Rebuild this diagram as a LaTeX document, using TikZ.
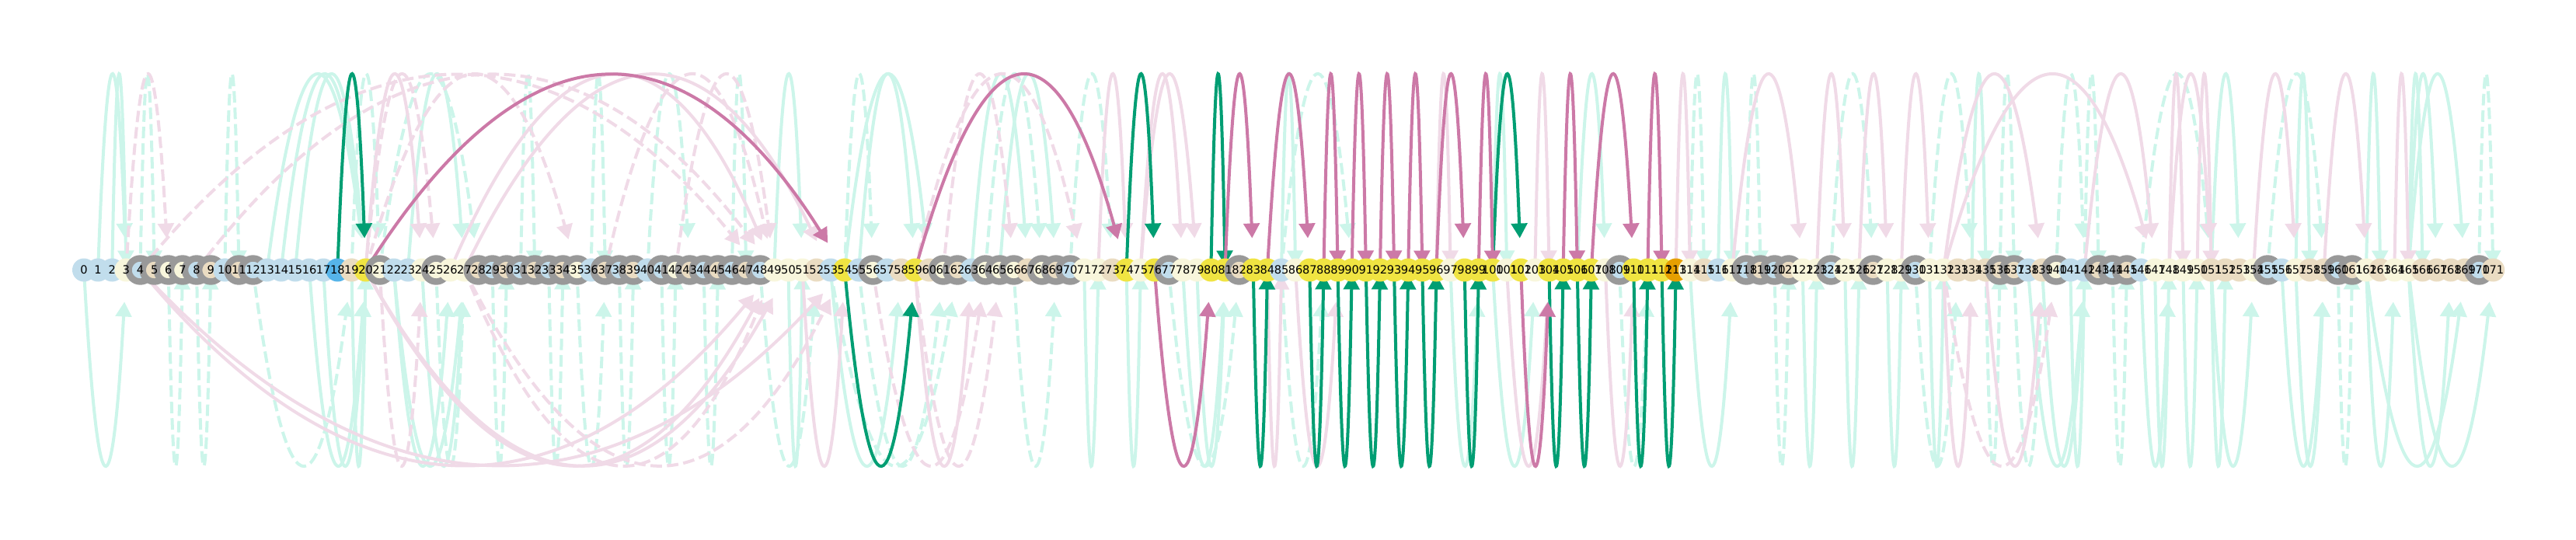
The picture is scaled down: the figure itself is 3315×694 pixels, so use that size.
\documentclass[tikz,border=0pt]{standalone}
\usepackage{fontspec}
\setmainfont{DejaVu Sans}
\usetikzlibrary{arrows.meta,backgrounds}
\definecolor{mintf}{HTML}{CCF5EA}
\definecolor{pinkf}{HTML}{F0DAE7}
\definecolor{greenf}{HTML}{009E73}
\definecolor{purplef}{HTML}{CC79A7}
\definecolor{cbl}{HTML}{C1DDEC}
\definecolor{ccr}{HTML}{F8F6DC}
\definecolor{cbg}{HTML}{EADCC2}
\definecolor{cyl}{HTML}{F0E442}
\definecolor{csb}{HTML}{56B4E9}
\definecolor{cor}{HTML}{E69F00}
\definecolor{cring}{HTML}{999999}
\tikzset{
  arcline/.style={line width=4pt,-{Triangle[length=19pt,width=20.5pt]}},
  mints/.style={arcline,draw=mintf},
  mintd/.style={mints,dash pattern=on 14.8pt off 6.4pt},
  pinks/.style={arcline,draw=pinkf},
  pinkd/.style={pinks,dash pattern=on 14.8pt off 6.4pt},
  greens/.style={arcline,draw=greenf},
  purples/.style={arcline,draw=purplef},
  dot/.style={circle,inner sep=0pt,minimum size=30pt,draw=none,line width=0pt},
  bl/.style={dot,fill=cbl}, cr/.style={dot,fill=ccr}, bg/.style={dot,fill=cbg},
  yl/.style={dot,fill=cyl}, sb/.style={dot,fill=csb}, orr/.style={dot,fill=cor},
  rbl/.style={bl,draw=cring,line width=8.4pt},
  rcr/.style={cr,draw=cring,line width=8.4pt},
  rbg/.style={bg,draw=cring,line width=8.4pt},
  lab/.style={inner sep=0pt,font=\fontsize{14.6}{15}\selectfont,text=black}
}
\newcommand{\arcedge}[4]{%
  \pgfmathsetmacro{\xaa}{108+18.13*#2}%
  \pgfmathsetmacro{\xbb}{108+18.13*#3}%
  \pgfmathsetmacro{\cax}{\xaa+(\xbb-\xaa)/3}%
  \pgfmathsetmacro{\cbx}{\xbb-(\xbb-\xaa)/3}%
  \pgfmathsetmacro{\shr}{(#3-#2==1)?6:41}%
  \pgfmathsetmacro{\hs}{(\xbb-\xaa)/1000}%
  \pgfmathsetmacro{\hthree}{\shr/sqrt(1+\hs*\hs)}%
  \pgfmathsetmacro{\cyy}{347.5+(#1)*(250-0.137*\hthree)/0.749}%
  \draw[#4,shorten >=\shr pt] (n#2.center) .. controls (\cax,\cyy) and (\cbx,\cyy) .. (n#3.center);%
}
\begin{document}
\begin{tikzpicture}[x=1pt,y=-1pt]
\useasboundingbox (0,0) rectangle (3315,694);
% nodes
\foreach \i/\st in {0/bl,1/bl,2/bl,3/cr,4/rbl,5/rbg,6/rcr,7/rcr,8/rbl,9/rbg,10/bl,11/rbg,12/rbl,13/bl,14/bl,15/bl,16/bl,17/bl,18/sb,19/bg,20/yl,21/rcr,22/bl,23/bl,24/cr,25/rcr,26/cr,27/cr,28/rbg,29/rbl,30/rbg,31/rbl,32/rbg,33/rbl,34/rbg,35/rcr,36/bl,37/rbg,38/rbl,39/rbg,40/bl,41/rbl,42/rcr,43/rbg,44/rbl,45/rbg,46/rbl,47/rbg,48/rbl,49/cr,50/cr,51/cr,52/bg,53/bl,54/yl,55/bl,56/rcr,57/bl,58/bg,59/yl,60/bg,61/rcr,62/rbg,63/bl,64/rcr,65/rcr,66/rcr,67/bg,68/rcr,69/rbg,70/rbl,71/cr,72/cr,73/bg,74/yl,75/cr,76/yl,77/rbl,78/cr,79/cr,80/yl,81/yl,82/rbg,83/yl,84/yl,85/bl,86/cr,87/yl,88/yl,89/yl,90/yl,91/yl,92/yl,93/yl,94/yl,95/yl,96/yl,97/cr,98/yl,99/yl,100/yl,101/cr,102/yl,103/cr,104/yl,105/yl,106/yl,107/yl,108/cr,109/rbl,110/yl,111/yl,112/yl,113/orr,114/cr,115/bg,116/bl,117/cr,118/rbl,119/rbg,120/rbl,121/rbg,122/cr,123/cr,124/rbl,125/cr,126/cr,127/rbg,128/cr,129/cr,130/rbl,131/cr,132/cr,133/bg,134/bg,135/bg,136/rbg,137/rbg,138/bl,139/bg,140/rcr,141/bl,142/bl,143/rbg,144/rbl,145/rbg,146/bl,147/cr,148/cr,149/cr,150/cr,151/bg,152/bg,153/bg,154/cr,155/rbl,156/bl,157/cr,158/bg,159/bg,160/rbl,161/rbg,162/cr,163/bg,164/cr,165/cr,166/bg,167/bg,168/bg,169/bg,170/rbl,171/bg}
  {\node[\st] (n\i) at ({108+18.13*\i},347.5) {};}
% labels
\foreach \i in {0,...,171} {\node[lab] (l\i) at (n\i.center) {\i};}
\begin{pgfonlayer}{background}
% faded arcs above
\foreach \a/\b in {1/3,2/3,13/20,14/20,15/20,23/27,49/51,55/59,54/60,63/67,65/69,85/86,100/101,106/108,116/117,134/135,151/153,157/158,162/163,165/166,165/167,165/169} {\arcedge{-1}{\a}{\b}{mints}}
\foreach \a/\b in {4/5,10/11,19/21,21/28,31/32,36/37,40/43,46/47,54/56,64/68,70/73,85/90,114/115,118/119,124/127,131/134,136/137,140/142,142/143,146/151,155/159,170/171} {\arcedge{-1}{\a}{\b}{mintd}}
\foreach \a/\b in {20/24,27/53,26/49,72/74,75/78,75/79,96/97,103/104,113/114,117/122,123/125,126/128,129/131,132/139,132/147,142/147,148/149,148/151,150/151,154/157,159/162,164/165} {\arcedge{-1}{\a}{\b}{pinks}}
\foreach \a/\b in {3/6,20/25,20/35,4/48,8/49,37/49,42/49,61/66,59/71} {\arcedge{-1}{\a}{\b}{pinkd}}
% faded arcs below
\foreach \a/\b in {0/3,16/20,17/20,19/20,22/26,22/27,24/27,50/51,53/58,71/72,74/75,78/81,79/81,97/99,100/103,114/117,122/123,125/126,128/129,131/132,138/142,139/142,141/142,146/148,147/148,149/150,151/152,151/154,156/159,157/159,162/164,162/169,165/168,165/171} {\arcedge{1}{\a}{\b}{mints}}
\foreach \a/\b in {6/7,8/9,12/19,25/27,29/30,33/34,35/37,38/39,41/42,44/45,48/52,55/61,53/62,66/69,77/82,85/88,109/111,120/121,130/133,135/136,137/139,144/145,160/161} {\arcedge{1}{\a}{\b}{mintd}}
\foreach \a/\b in {4/49,4/54,20/49,20/50,51/54,59/63,84/85,86/89,101/104,108/110,132/134,135/139} {\arcedge{1}{\a}{\b}{pinks}}
\foreach \a/\b in {21/24,27/49,27/54,56/64,59/65,132/140} {\arcedge{1}{\a}{\b}{pinkd}}
% strong arcs
\foreach \a/\b in {18/20,74/76,80/81,100/102} {\arcedge{-1}{\a}{\b}{greens}}
\foreach \a/\b in {20/54,59/74,81/83,84/87,88/89,90/91,92/93,94/95,96/98,99/100,105/106,107/110,111/112} {\arcedge{-1}{\a}{\b}{purples}}
\foreach \a/\b in {54/59,83/84,87/88,89/90,91/92,93/94,95/96,98/99,104/105,106/107,110/111,112/113} {\arcedge{1}{\a}{\b}{greens}}
\foreach \a/\b in {76/80,102/104} {\arcedge{1}{\a}{\b}{purples}}
\end{pgfonlayer}
\end{tikzpicture}
\end{document}
